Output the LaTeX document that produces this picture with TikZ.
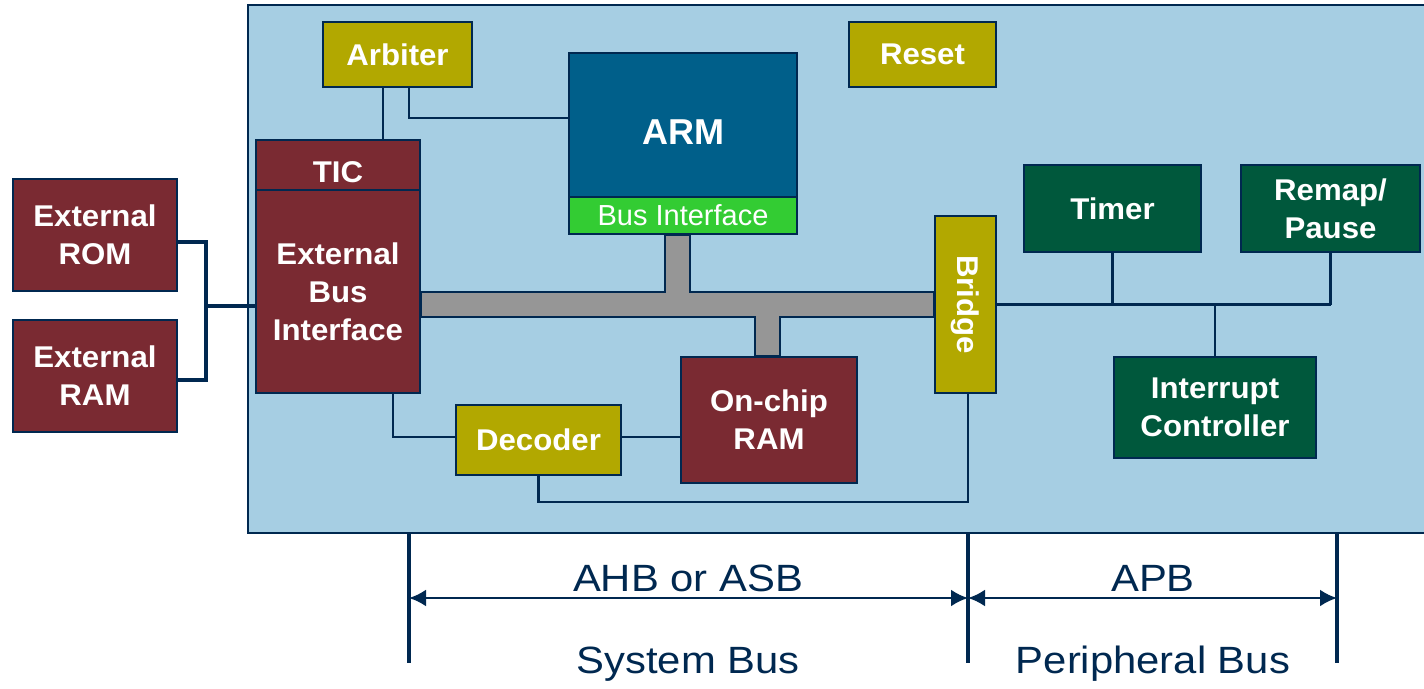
\documentclass[tikz,border=0pt]{standalone}
\usepackage{fontspec}
\usepackage{graphicx}
\setmainfont{Liberation Sans}
\newfontfamily\boxfont{Liberation Sans}[FakeStretch=1.04]
\newfontfamily\busfont{Liberation Sans}[FakeStretch=1.1]
\usetikzlibrary{arrows.meta,calc}
\definecolor{navy}{RGB}{0,40,80}
\definecolor{socblue}{RGB}{166,206,227}
\definecolor{chipred}{RGB}{122,42,50}
\definecolor{olivebox}{RGB}{178,168,0}
\definecolor{armblue}{RGB}{0,95,138}
\definecolor{bifgreen}{RGB}{51,204,51}
\definecolor{pgreen}{RGB}{0,88,60}
\definecolor{busgrey}{RGB}{150,150,150}

\begin{document}
\begin{tikzpicture}[x=1pt,y=-1pt,
  main node/.style={draw=navy,line width=2pt,text=white,align=center,inner sep=0pt,font=\boxfont\bfseries\fontsize{30}{38}\selectfont},
  red node/.style={main node,fill=chipred},
  olive node/.style={main node,fill=olivebox},
  green node/.style={main node,fill=pgreen},
  wire/.style={draw=navy,line width=2.5pt},
  bus text/.style={text=navy,font=\busfont\fontsize{38}{42}\selectfont}]

  \useasboundingbox (0,0) rectangle (1424,688);
  \fill[socblue,draw=navy,line width=2pt] (248,5) rectangle (1434,533);

  \node[olive node,minimum width=149pt,minimum height=65pt] (arb) at (397.5,54.5) {Arbiter};
  \node[olive node,minimum width=147pt,minimum height=65pt] (rst) at (922.5,54.5) {Reset};
  \node[main node,fill=armblue,minimum width=228pt,minimum height=144pt,text height=38pt,font=\bfseries\fontsize{36}{40}\selectfont] (arm) at (683,125) {ARM};
  \node[main node,fill=bifgreen,minimum width=228pt,minimum height=37pt,font=\fontsize{29}{32}\selectfont] (bif) at (683,215.5) {Bus Interface};
  \node[red node,minimum width=164pt,minimum height=203pt] (ebi) at (338,291.5) {External\\Bus\\Interface};
  \node[red node,minimum width=164pt,minimum height=50pt,text height=35pt] (tic) at (338,165) {TIC};
  \node[red node,minimum width=164pt,minimum height=112pt] (rom) at (95,235) {External\\ROM};
  \node[red node,minimum width=164pt,minimum height=112pt] (xram) at (95,376) {External\\RAM};
  \node[red node,minimum width=176pt,minimum height=126pt] (ram) at (769,420) {On-chip\\RAM};
  \node[olive node,minimum width=165pt,minimum height=70pt] (dec) at (538.5,440) {Decoder};
  \node[olive node,minimum width=61pt,minimum height=177pt] (bridge) at (965.5,304.5) {\rotatebox{-90}{Bridge}};
  \node[green node,minimum width=177pt,minimum height=87pt] (timer) at (1112.5,208.5) {Timer};
  \node[green node,minimum width=179pt,minimum height=87pt] (remap) at (1330.5,208.5) {Remap/\\Pause};
  \node[green node,minimum width=202pt,minimum height=101pt] (intc) at (1215,407.5) {Interrupt\\Controller};

  \coordinate (bn) at ($(bridge.west)+(0,-12.5)$);
  \coordinate (bs) at ($(bridge.west)+(0,12.5)$);
  \coordinate (au) at ($(bif.south)+(-5.5,0)$);
  \filldraw[fill=busgrey,draw=navy,line width=1.2pt]
    (ebi.east |- bn) -- ($(au |- bn)+(-12.5,0)$) -- ($(au)+(-12.5,0)$) -- ($(au)+(12.5,0)$)
    -- ($(au |- bn)+(12.5,0)$) -- (bn) -- (bs) -- ($(ram.north |- bs)+(11,0)$)
    -- ($(ram.north)+(11,0)$) -- ($(ram.north)+(-14,0)$) -- ($(ram.north |- bs)+(-14,0)$)
    -- (ebi.east |- bs) -- cycle;

  \draw[wire] ($(arb.south)+(-14.5,0)$) coordinate (a1) -- (a1 |- tic.north);
  \draw[wire] ($(arb.south)+(11.5,0)$) |- ($(arm.west)+(0,-7)$);
  \draw[wire] ($(ebi.south)+(55,0)$) |- ($(dec.west)+(0,-3)$);
  \draw[wire] ($(dec.east)+(0,-3)$) -- ($(ram.west |- dec.east)+(0,-3)$);
  \draw[wire] (dec.south) -- ++(0,26) -| ($(bridge.south)+(2.5,0)$);
  \draw[wire] (bridge.east) -- (bridge.east -| remap.south);
  \draw[wire] (timer.south) -- (timer.south |- bridge.east);
  \draw[wire] (remap.south) -- (remap.south |- bridge.east);
  \draw[wire] (intc.north) -- (intc.north |- bridge.east);

  \coordinate (mid) at ($(rom.east)!.5!(xram.east)+(28,0)$);
  \draw[navy,line width=4pt] ($(rom.east)+(0,7)$) -| ($(mid |- xram.east)+(0,4)$) -- ($(xram.east)+(0,4)$);
  \draw[navy,line width=4pt] (mid) -- (mid -| ebi.west);

  \foreach \x/\n in {409/s,968/m,1337/e}{
    \coordinate (\n t) at (\x,533);
    \coordinate (\n b) at (\x,663);
    \draw[navy,line width=4pt] (\n t) -- (\n b);
  }
  \draw[navy,line width=2.7pt,{Latex[length=17pt,width=17pt]}-{Latex[length=17pt,width=17pt]}]
    ($(st)!.5!(sb)$) -- ($(mt)!.5!(mb)$);
  \draw[navy,line width=2.7pt,{Latex[length=17pt,width=17pt]}-{Latex[length=17pt,width=17pt]}]
    ($(mt)!.5!(mb)$) -- ($(et)!.5!(eb)$);
  \node[bus text] (ahb) at (688,578) {AHB or ASB};
  \node[bus text] (apb) at (1153,578) {APB};
  \node[bus text] (sys) at (688,664) {System Bus};
  \node[bus text] (per) at (1153,664) {Peripheral Bus};
\end{tikzpicture}
\end{document}
